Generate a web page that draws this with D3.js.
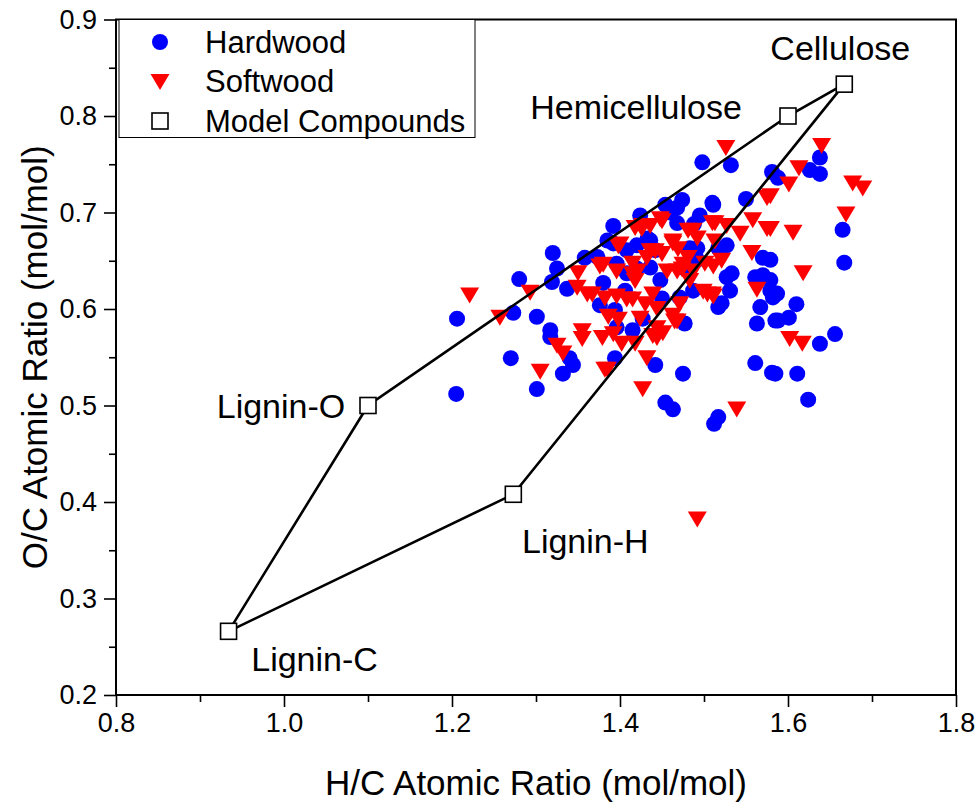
<!DOCTYPE html>
<html><head><meta charset="utf-8">
<script src="https://cdn.jsdelivr.net/npm/d3@7"></script>
<style>html,body{margin:0;padding:0;background:#fff;}svg{display:block;}</style>
</head><body><svg id="c" width="979" height="804"></svg>
<script>
const hardwoodHC = [1.206,1.205,1.280,1.270,1.301,1.301,1.319,1.337,1.273,1.317,1.317,1.340,1.344,1.332,1.320,1.325,1.358,1.373,1.392,1.392,1.408,1.396,1.380,1.394,1.408,1.376,1.396,1.474,1.510,1.454,1.468,1.433,1.420,1.492,1.475,1.436,1.487,1.471,1.450,1.427,1.477,1.415,1.517,1.498,1.532,1.581,1.550,1.527,1.517,1.570,1.570,1.533,1.561,1.527,1.531,1.521,1.567,1.582,1.579,1.563,1.585,1.394,1.442,1.475,1.561,1.581,1.454,1.463,1.517,1.512,1.638,1.626,1.638,1.588,1.665,1.667,1.579,1.579,1.587,1.610,1.588,1.601,1.638,1.656,1.585,1.611,1.624,1.436,1.385,1.420,1.492,1.511,1.468,1.424,1.495,1.483,1.448,1.406,1.442,1.460,1.488];
const hardwoodOC = [0.590,0.512,0.631,0.549,0.592,0.517,0.628,0.621,0.596,0.578,0.571,0.549,0.542,0.533,0.658,0.642,0.653,0.654,0.686,0.668,0.661,0.647,0.627,0.599,0.637,0.604,0.581,0.713,0.710,0.708,0.689,0.673,0.666,0.663,0.643,0.643,0.619,0.612,0.611,0.590,0.585,0.578,0.602,0.752,0.749,0.742,0.714,0.666,0.663,0.653,0.635,0.637,0.633,0.633,0.619,0.606,0.602,0.612,0.619,0.585,0.588,0.549,0.542,0.533,0.544,0.534,0.503,0.496,0.488,0.481,0.757,0.744,0.740,0.736,0.682,0.648,0.651,0.630,0.616,0.605,0.588,0.591,0.564,0.574,0.533,0.533,0.506,0.671,0.671,0.642,0.651,0.708,0.705,0.697,0.697,0.663,0.630,0.619,0.661,0.700,0.688];
const softwoodHC = [1.526,1.640,1.613,1.601,1.579,1.677,1.689,1.669,1.579,1.606,1.618,1.602,1.617,1.575,1.558,1.575,1.543,1.513,1.527,1.557,1.511,1.481,1.492,1.448,1.436,1.426,1.400,1.380,1.442,1.432,1.463,1.469,1.475,1.487,1.468,1.421,1.396,1.521,1.563,1.504,1.511,1.465,1.444,1.432,1.385,1.427,1.539,1.221,1.293,1.349,1.361,1.257,1.325,1.332,1.355,1.355,1.305,1.379,1.382,1.350,1.376,1.398,1.418,1.450,1.427,1.487,1.510,1.463,1.436,1.415,1.450,1.481,1.513,1.501,1.367,1.382,1.396,1.408,1.418,1.386,1.398,1.392,1.402,1.418,1.415,1.456,1.474,1.483,1.499,1.510,1.439,1.415,1.430,1.444,1.471,1.424,1.463,1.468,1.444,1.451,1.439,1.492];
const softwoodOC = [0.768,0.770,0.747,0.730,0.718,0.731,0.726,0.699,0.684,0.680,0.638,0.570,0.565,0.716,0.693,0.684,0.679,0.690,0.687,0.659,0.645,0.682,0.674,0.694,0.687,0.684,0.668,0.647,0.661,0.654,0.671,0.663,0.647,0.640,0.640,0.640,0.640,0.651,0.621,0.616,0.614,0.588,0.571,0.550,0.538,0.518,0.497,0.615,0.618,0.623,0.616,0.592,0.563,0.555,0.578,0.570,0.536,0.571,0.538,0.638,0.645,0.666,0.685,0.692,0.687,0.682,0.690,0.669,0.661,0.648,0.658,0.654,0.671,0.648,0.616,0.612,0.614,0.611,0.630,0.593,0.590,0.575,0.565,0.565,0.637,0.640,0.642,0.630,0.619,0.616,0.616,0.611,0.606,0.601,0.606,0.591,0.594,0.588,0.581,0.576,0.573,0.383];
const modelNames = ["Lignin-C","Lignin-O","Hemicellulose","Cellulose","Lignin-H"];
const modelHC = [0.934,1.100,1.600,1.667,1.273];
const modelOC = [0.266,0.500,0.800,0.833,0.408];
const xTicks = [0.8,1.0,1.2,1.4,1.6,1.8];
const xMinor = [0.9,1.1,1.3,1.5,1.7];
const yTicks = [0.2,0.3,0.4,0.5,0.6,0.7,0.8,0.9];
const yMinor = [0.25,0.35,0.45,0.55,0.65,0.75,0.85];
const legendLabels = ["Hardwood","Softwood","Model Compounds"];
const xTitle = "H/C Atomic Ratio (mol/mol)";
const yTitle = "O/C Atomic Ratio (mol/mol)";

const FONT = "'Liberation Sans', Arial, sans-serif";
const L=116, R=956, T=19.5, B=695;
const svg = d3.select("#c");
const x = d3.scaleLinear().domain([0.8,1.8]).range([L,R]);
const y = d3.scaleLinear().domain([0.2,0.9]).range([B,T]);

// axes
svg.append("g").attr("transform",`translate(0,${B})`)
  .call(d3.axisBottom(x).tickValues(xTicks).tickSize(12).tickPadding(6).tickFormat(d3.format(".1f")));
svg.append("g").attr("transform",`translate(0,${B})`)
  .call(d3.axisBottom(x).tickValues(xMinor).tickSize(7).tickFormat(""));
svg.append("g").attr("transform",`translate(${L},0)`)
  .call(d3.axisLeft(y).tickValues(yTicks).tickSize(12).tickPadding(7).tickFormat(d3.format(".1f")));
svg.append("g").attr("transform",`translate(${L},0)`)
  .call(d3.axisLeft(y).tickValues(yMinor).tickSize(7).tickFormat(""));
svg.selectAll(".domain").remove();
svg.selectAll(".tick line").attr("stroke","#000").attr("stroke-width",1.6);
svg.selectAll(".tick text").attr("font-family",FONT).attr("font-size",27).attr("fill","#000");

// frame
svg.append("rect").attr("x",L).attr("y",T).attr("width",R-L).attr("height",B-T)
  .attr("fill","none").attr("stroke","#000").attr("stroke-width",2);

// titles
svg.append("text").attr("x",536).attr("y",795).attr("text-anchor","middle")
  .attr("font-family",FONT).attr("font-size",35).text(xTitle);
svg.append("text").attr("transform",`translate(47,${(T+B)/2}) rotate(-90)`).attr("text-anchor","middle")
  .attr("font-family",FONT).attr("font-size",35).text(yTitle);

// points
const hw = hardwoodHC.map((d,i)=>({x:d,y:hardwoodOC[i]}));
const sw = softwoodHC.map((d,i)=>({x:d,y:softwoodOC[i]}));
svg.append("g").selectAll("circle").data(hw).join("circle")
  .attr("cx",d=>x(d.x)).attr("cy",d=>y(d.y)).attr("r",8).attr("fill","#0000ff");
const tri = "M-9.5,-7 L9.5,-7 L0,9 Z";
svg.append("g").selectAll("path").data(sw).join("path")
  .attr("d",tri).attr("transform",d=>`translate(${x(d.x)},${y(d.y)})`).attr("fill","#ff0000");

// model polygon
const model = modelNames.map((n,i)=>({name:n,x:modelHC[i],y:modelOC[i]}));
svg.append("path").datum(model)
  .attr("d",d3.line().x(d=>x(d.x)).y(d=>y(d.y)).curve(d3.curveLinearClosed))
  .attr("fill","none").attr("stroke","#000").attr("stroke-width",2.6);
svg.append("g").selectAll("rect").data(model).join("rect")
  .attr("x",d=>x(d.x)-8).attr("y",d=>y(d.y)-8).attr("width",16).attr("height",16)
  .attr("fill","#fff").attr("stroke","#000").attr("stroke-width",1.6);
const off = {"Cellulose":[-4,-36],"Hemicellulose":[-152,-9],"Lignin-O":[-87,0],"Lignin-H":[72,47],"Lignin-C":[86,28]};
svg.append("g").selectAll("text").data(model).join("text")
  .attr("x",d=>x(d.x)+off[d.name][0]).attr("y",d=>y(d.y)+off[d.name][1]+12)
  .attr("text-anchor","middle").attr("font-family",FONT).attr("font-size",34).text(d=>d.name);

// legend
const lg = svg.append("g");
lg.append("rect").attr("x",119).attr("y",T).attr("width",356).attr("height",118)
  .attr("fill","#fff").attr("stroke","#000").attr("stroke-width",1);
const ly = [42,81,121];
lg.append("circle").attr("cx",160).attr("cy",ly[0]).attr("r",8).attr("fill","#0000ff");
lg.append("path").attr("d",tri).attr("transform",`translate(160,${ly[1]})`).attr("fill","#ff0000");
lg.append("rect").attr("x",152).attr("y",ly[2]-8).attr("width",16).attr("height",16)
  .attr("fill","#fff").attr("stroke","#000").attr("stroke-width",1.6);
lg.selectAll("text").data(legendLabels).join("text")
  .attr("x",205).attr("y",(d,i)=>ly[i]+11).attr("font-family",FONT).attr("font-size",31).text(d=>d);
</script></body></html>
